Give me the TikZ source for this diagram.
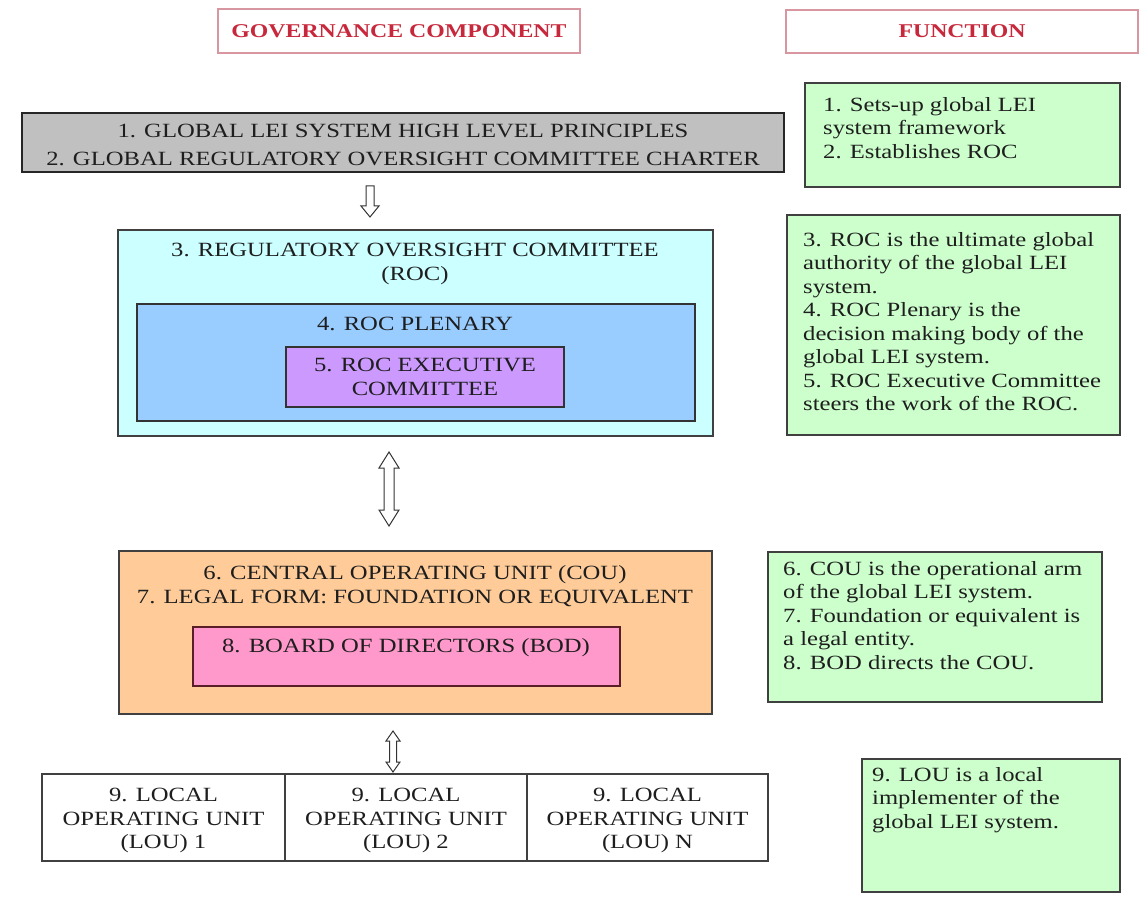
\documentclass[tikz,border=0pt]{standalone}
\usepackage{fontspec}
\setmainfont{Liberation Serif}[FakeStretch=1.22]
\usetikzlibrary{fit,calc}
\definecolor{grayfill}{RGB}{192,192,192}
\definecolor{cyanfill}{RGB}{204,255,255}
\definecolor{bluefill}{RGB}{153,204,255}
\definecolor{purplefill}{RGB}{204,153,255}
\definecolor{orangefill}{RGB}{255,204,153}
\definecolor{pinkfill}{RGB}{255,153,204}
\definecolor{greenfill}{RGB}{204,255,204}
\definecolor{hdrred}{RGB}{200,40,60}
\definecolor{hdrline}{RGB}{215,150,160}
\definecolor{txtc}{RGB}{30,30,30}
\begin{document}
\begin{tikzpicture}[x=1pt,y=-1pt,
  box/.style={draw=black!75, line width=1.3pt, rectangle, inner sep=0pt},
  hdrbox/.style={draw=hdrline, line width=1.5pt, rectangle, inner sep=0pt},
  hdrtxt/.style={font=\bfseries\fontsize{19.5}{22}\selectfont, text=hdrred, inner sep=0pt},
  ctxt/.style={font=\fontsize{20.2}{23.5}\selectfont, text=txtc, align=center, inner sep=0pt},
  ftxt/.style={font=\fontsize{20.2}{23.5}\selectfont, text=txtc, align=left, anchor=north west, inner sep=0pt},
  blockarr/.style={draw=black!80, fill=white, line width=1pt, line join=miter},
  pics/downarr/.style={code={\draw[blockarr] (-4,0) -- (4,0) -- (4,20) -- (9,20) -- (0,31) -- (-9,20) -- (-4,20) -- cycle;}},
  pics/bigdbl/.style={code={\draw[blockarr] (0,0) -- (10,16) -- (5,16) -- (5,58) -- (10,58) -- (0,74) -- (-10,58) -- (-5,58) -- (-5,16) -- (-10,16) -- cycle;}},
  pics/smalldbl/.style={code={\draw[blockarr] (0,0) -- (7,10) -- (3.5,10) -- (3.5,31) -- (7,31) -- (0,41) -- (-7,31) -- (-3.5,31) -- (-3.5,10) -- (-7,10) -- cycle;}}
]
\useasboundingbox[fill=white] (0,0) rectangle (1147,901);

% headers
\node (hgov) [hdrbox, fit={(218,9) (580,53)}] {};
\node (hgovT) [hdrtxt] at (hgov.center) {GOVERNANCE COMPONENT};
\node (hfun) [hdrbox, fit={(786,10) (1138,53)}] {};
\node (hfunT) [hdrtxt] at (hfun.center) {FUNCTION};

% global principles
\node (gray) [box, draw=black!85, line width=1.6pt, fill=grayfill, fit={(22,113) (784,172)}] {};
\node (grayT) [ctxt, font=\fontsize{20.2}{27.5}\selectfont] at (403,145) {1. GLOBAL LEI SYSTEM HIGH LEVEL PRINCIPLES\\2. GLOBAL REGULATORY OVERSIGHT COMMITTEE CHARTER};

% ROC
\node (roc) [box, fill=cyanfill, fit={(118,230) (713,436)}] {};
\node (rocT) [ctxt] at (415,264) {3. REGULATORY OVERSIGHT COMMITTEE\\(ROC)};
\node (plen) [box, draw=black!80, fill=bluefill, fit={(137,304) (695,421)}] {};
\node (plenT) [ctxt] at (415,324) {4. ROC PLENARY};
\node (exec) [box, draw=black!80, fill=purplefill, fit={(286,347) (564,407)}] {};
\node (execT) [ctxt] at (exec.center) {5. ROC EXECUTIVE\\COMMITTEE};

% COU
\node (cou) [box, fill=orangefill, fit={(119,551) (712,714)}] {};
\node (couT) [ctxt] at (415,586) {6. CENTRAL OPERATING UNIT (COU)\\7. LEGAL FORM: FOUNDATION OR EQUIVALENT};
\node (bod) [box, draw={rgb,255:red,90;green,30;blue,40}, fill=pinkfill, fit={(193,627) (620,686)}] {};
\node (bodT) [ctxt] at (406,648) {8. BOARD OF DIRECTORS (BOD)};

% LOUs
\node (lou1) [box, fit={(42,774) (285,861)}] {};
\node (lou2) [box, fit={(285,774) (527,861)}] {};
\node (lou3) [box, fit={(527,774) (768,861)}] {};
\node (lou1T) [ctxt] at ($(lou1.center)+(0,3)$) {9. LOCAL\\OPERATING UNIT\\(LOU) 1};
\node (lou2T) [ctxt] at ($(lou2.center)+(0,3)$) {9. LOCAL\\OPERATING UNIT\\(LOU) 2};
\node (lou3T) [ctxt] at ($(lou3.center)+(0,3)$) {9. LOCAL\\OPERATING UNIT\\(LOU) N};

% block arrows
\coordinate (a1) at (370,186);
\coordinate (a2) at (389,452);
\coordinate (a3) at (393,731);
\pic at (a1) {downarr};
\pic at (a2) {bigdbl};
\pic at (a3) {smalldbl};

% function boxes
\node (f1) [box, fill=greenfill, fit={(805,83) (1120,187)}] {};
\node (f1T) [ftxt] at (823,97) {1. Sets-up global LEI\\system framework\\2. Establishes ROC};
\node (f2) [box, fill=greenfill, fit={(787,215) (1120,435)}] {};
\node (f2T) [ftxt] at (803,232) {3. ROC is the ultimate global\\authority of the global LEI\\system.\\4. ROC Plenary is the\\decision making body of the\\global LEI system.\\5. ROC Executive Committee\\steers the work of the ROC.};
\node (f3) [box, fill=greenfill, fit={(768,552) (1102,702)}] {};
\node (f3T) [ftxt] at (783,561) {6. COU is the operational arm\\of the global LEI system.\\7. Foundation or equivalent is\\a legal entity.\\8. BOD directs the COU.};
\node (f4) [box, fill=greenfill, fit={(862,759) (1120,892)}] {};
\node (f4T) [ftxt] at (872,767) {9. LOU is a local\\implementer of the\\global LEI system.};
\end{tikzpicture}
\end{document}
